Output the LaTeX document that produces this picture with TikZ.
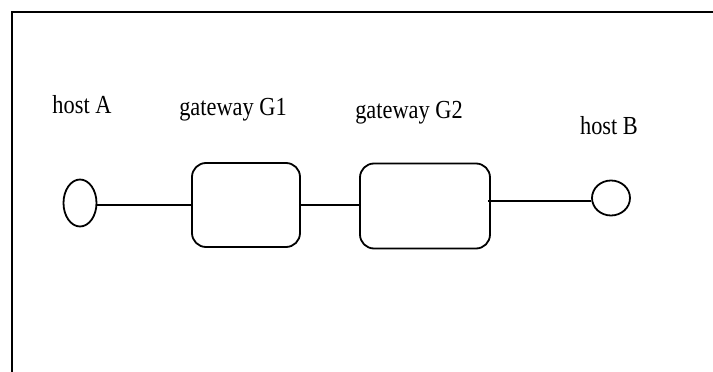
\documentclass[tikz,border=0pt]{standalone}
\usepackage{fontspec}
\usepackage{tikz}
\usetikzlibrary{calc,positioning,shapes.geometric}
\newfontfamily\labelfont[FakeStretch=0.86]{Liberation Serif}
\tikzset{
	x=1pt,
	y=-1pt,
	host/.style={draw, ellipse, inner sep=0pt},
	gateway/.style={draw, rectangle, rounded corners=14pt, inner sep=0pt},
	lbl/.style={anchor=base, inner sep=0pt, font=\labelfont\fontsize{26}{30}\selectfont},
}

\begin{document}
\begin{tikzpicture}[line width=1.8pt]
		\useasboundingbox (0,0) rectangle (713,372);
		\draw (713,12) -- (12,12) -- (12,372);

		\node[host, minimum width=33pt, minimum height=47pt] (hA) at (80,203) {};
		\node[gateway, minimum width=108pt, minimum height=84pt] (g1) at (246,205) {};
		\node[gateway, minimum width=130pt, minimum height=85pt] (g2) at (425,206) {};
		\node[host, minimum width=38pt, minimum height=35pt] (hB) at (611,198) {};

		\node[lbl] (lA) at (82,113) {host A};
		\node[lbl] (l1) at (233,115) {gateway G1};
		\node[lbl] (l2) at (409,118) {gateway G2};
		\node[lbl] (lB) at (609,134) {host B};

		\draw ($(hA.east)+(0,2)$) -- ($(hA.east -| g1.west)+(0,2)$)
		(g1.east) -- (g1.east -| g2.west)
		($(hB.west)+(0,3)$) -- ($(hB.west -| g2.east)+(-3,3)$);
	\end{tikzpicture}
\end{document}
